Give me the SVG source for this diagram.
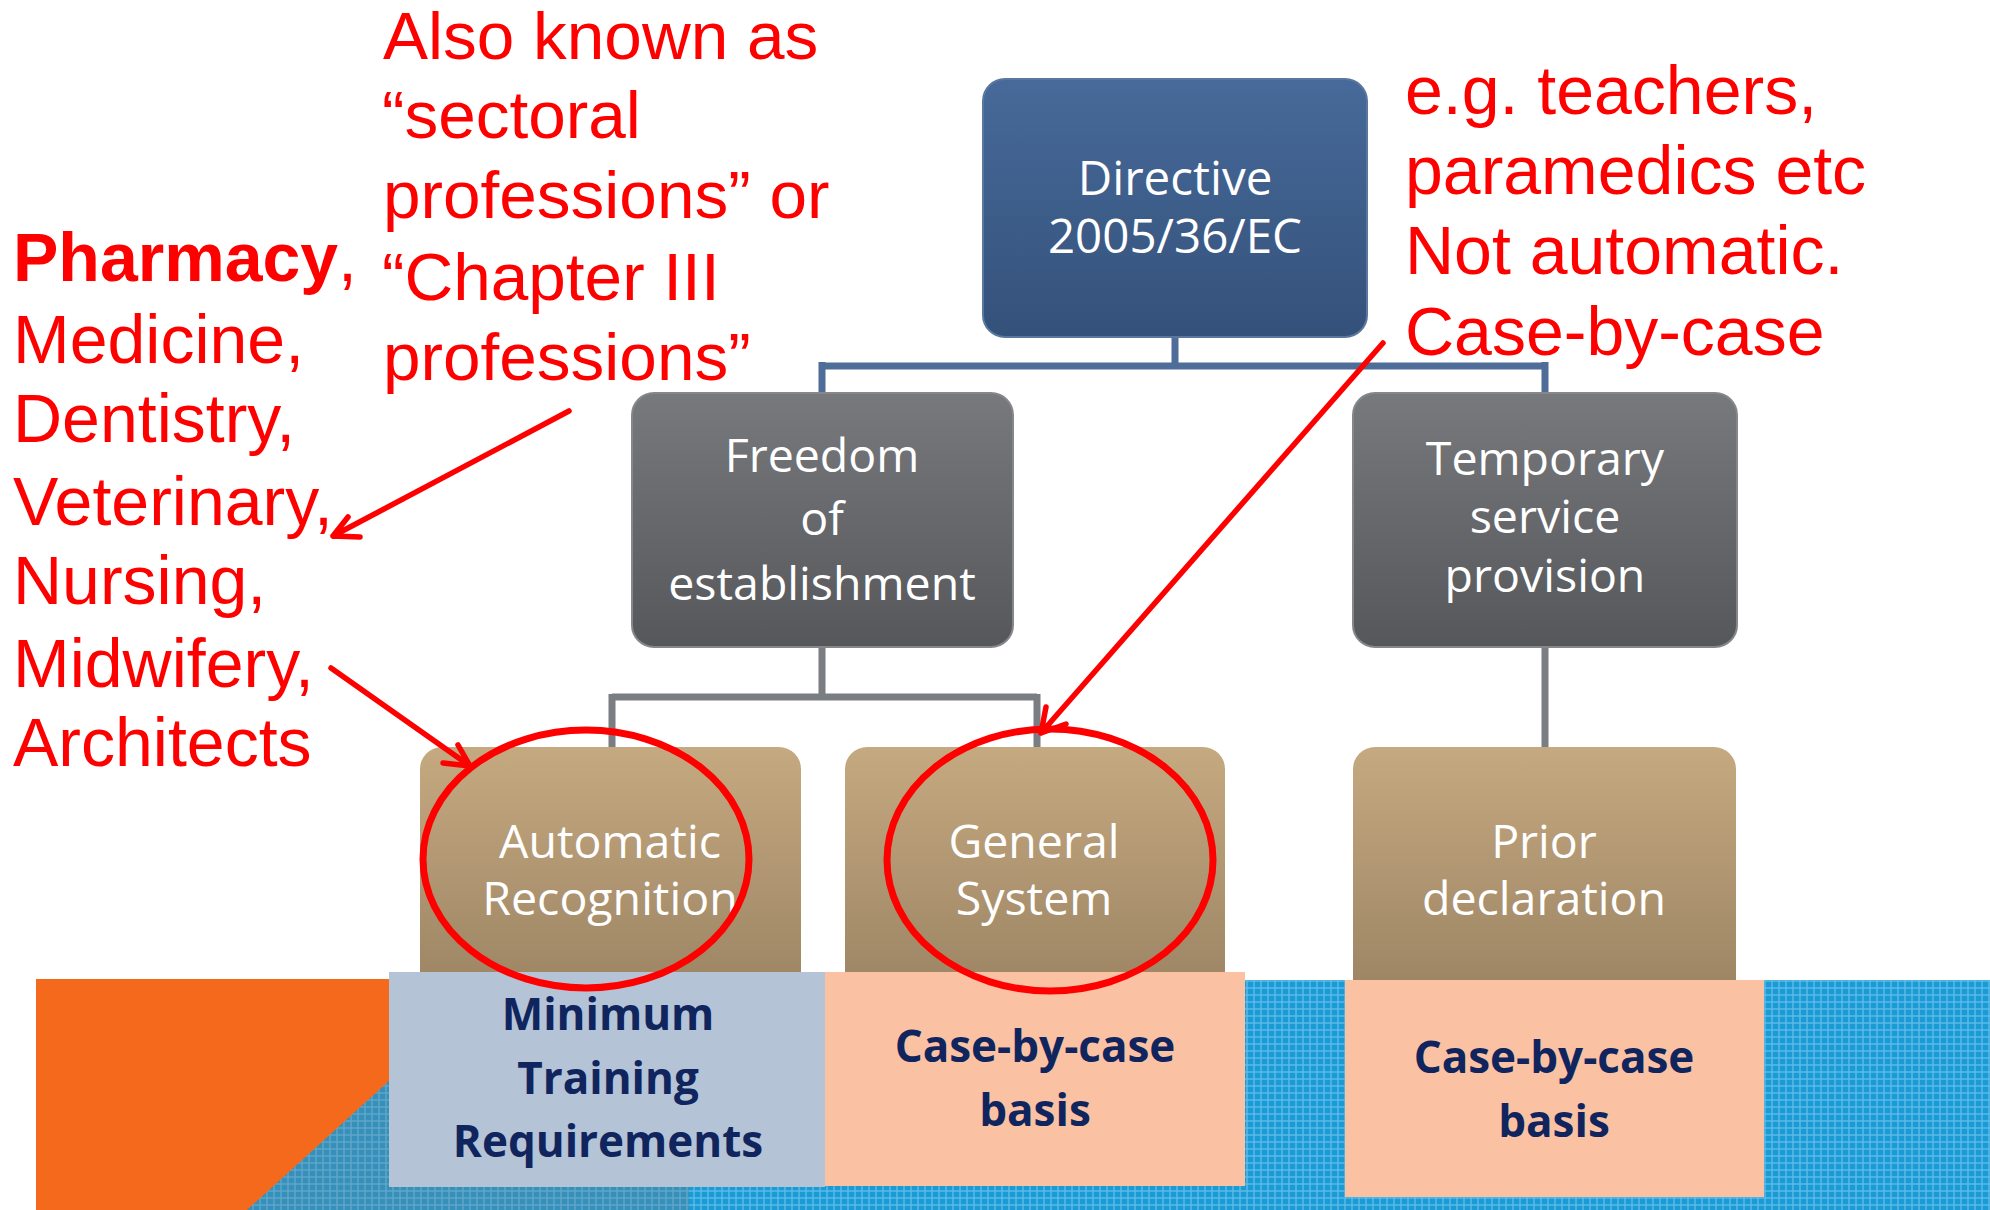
<svg xmlns="http://www.w3.org/2000/svg" width="1990" height="1210" viewBox="0 0 1990 1210">
  <defs>
    <linearGradient id="gBlue" x1="0" y1="0" x2="0" y2="1">
      <stop offset="0" stop-color="#476A9A"/>
      <stop offset="1" stop-color="#34517A"/>
    </linearGradient>
    <linearGradient id="gGrey" x1="0" y1="0" x2="0" y2="1">
      <stop offset="0" stop-color="#77797D"/>
      <stop offset="1" stop-color="#55575B"/>
    </linearGradient>
    <linearGradient id="gTan" x1="0" y1="0" x2="0" y2="1">
      <stop offset="0" stop-color="#C5A980"/>
      <stop offset="1" stop-color="#9A8262"/>
    </linearGradient>
    <pattern id="pBlue" patternUnits="userSpaceOnUse" width="7" height="7">
      <rect width="7" height="7" fill="#1A9BD6"/>
      <rect width="7" height="2" fill="#5DBDE8" opacity="0.7"/>
      <rect width="2" height="7" fill="#5DBDE8" opacity="0.7"/>
    </pattern>
    <style>
      .lbl { font-family: "Open Sans", "Liberation Sans", sans-serif; font-size: 46.5px; fill: #FFFFFF; text-anchor: middle; }
      .big { font-size: 47.5px; }
      .sub { font-family: "Open Sans", "Liberation Sans", sans-serif; font-size: 44px; font-weight: bold; fill: #10255E; text-anchor: middle; }
      .note { font-family: "Liberation Sans", Arial, sans-serif; font-size: 68px; fill: #FF0000; }
      .mid { font-size: 67.5px; }
      .cb { fill: none; stroke: #4E6D98; stroke-width: 7; }
      .cg { fill: none; stroke: #7A7D82; stroke-width: 7; }
      .ring { fill: none; stroke: #FF0000; stroke-width: 7; }
      .arr { fill: none; stroke: #FF0000; stroke-width: 5.5; stroke-linecap: round; }
    </style>
  </defs>

  <rect width="1990" height="1210" fill="#FFFFFF"/>

  <!-- connectors -->
  <g id="connectors">
    <path class="cb" d="M1175 337 V366 M822 366 H1545 M822 362 V393 M1545 362 V393"/>
    <path class="cg" d="M822 647 V697 M612 697 H1037 M612 694 V747 M1037 694 V747 M1545 647 V747"/>
  </g>

  <!-- level 1 -->
  <g id="directive">
    <rect x="983" y="79" width="384" height="258" rx="22" fill="url(#gBlue)" stroke="#5A779F" stroke-width="2"/>
    <text class="lbl big" x="1175" y="195">Directive</text>
    <text class="lbl big" x="1175" y="253">2005/36/EC</text>
  </g>

  <!-- level 2 -->
  <g id="freedom">
    <rect x="632" y="393" width="381" height="254" rx="22" fill="url(#gGrey)" stroke="#85878B" stroke-width="2"/>
    <text class="lbl" x="822" y="472">Freedom</text>
    <text class="lbl" x="822" y="535">of</text>
    <text class="lbl" x="822" y="600">establishment</text>
  </g>
  <g id="temporary">
    <rect x="1353" y="393" width="384" height="254" rx="22" fill="url(#gGrey)" stroke="#85878B" stroke-width="2"/>
    <text class="lbl" x="1545" y="475">Temporary</text>
    <text class="lbl" x="1545" y="533">service</text>
    <text class="lbl" x="1545" y="592">provision</text>
  </g>

  <!-- level 3 -->
  <g id="automatic">
    <rect x="420" y="747" width="381" height="260" rx="22" fill="url(#gTan)"/>
    <text class="lbl" x="610" y="858">Automatic</text>
    <text class="lbl" x="610" y="915">Recognition</text>
  </g>
  <g id="general">
    <rect x="845" y="747" width="380" height="260" rx="22" fill="url(#gTan)"/>
    <text class="lbl" x="1034" y="858">General</text>
    <text class="lbl" x="1034" y="915">System</text>
  </g>
  <g id="prior">
    <rect x="1353" y="747" width="383" height="260" rx="22" fill="url(#gTan)"/>
    <text class="lbl" x="1544" y="858">Prior</text>
    <text class="lbl" x="1544" y="915">declaration</text>
  </g>

  <!-- bottom band -->
  <g id="band">
    <rect x="36" y="980" width="1954" height="230" fill="url(#pBlue)"/>
    <polygon points="390,1080 390,1187 689,1187 689,1210 247,1210" fill="#6A7F8C" opacity="0.35"/>
    <polygon points="36,979 390,979 390,1080 247,1210 36,1210" fill="#F5691D"/>
  </g>

  <g id="minimum">
    <rect x="389" y="972" width="436" height="215" fill="#B4C3D6"/>
    <text class="sub" x="608" y="1030">Minimum</text>
    <text class="sub" x="608" y="1094">Training</text>
    <text class="sub" x="608" y="1157">Requirements</text>
  </g>
  <g id="case-general">
    <rect x="825" y="972" width="420" height="214" fill="#FBC1A3"/>
    <text class="sub" x="1035" y="1062">Case-by-case</text>
    <text class="sub" x="1035" y="1126">basis</text>
  </g>
  <g id="case-prior">
    <rect x="1345" y="980" width="419" height="217" fill="#FBC1A3"/>
    <text class="sub" x="1554" y="1073">Case-by-case</text>
    <text class="sub" x="1554" y="1137">basis</text>
  </g>

  <!-- annotations -->
  <g id="note-left">
    <text class="note" x="13" y="281"><tspan font-weight="bold">Pharmacy</tspan>,</text>
    <text class="note" x="13" y="363">Medicine,</text>
    <text class="note" x="13" y="442">Dentistry,</text>
    <text class="note" x="13" y="525">Veterinary,</text>
    <text class="note" x="13" y="604">Nursing,</text>
    <text class="note" x="13" y="687">Midwifery,</text>
    <text class="note" x="13" y="766">Architects</text>
  </g>
  <g id="note-middle">
    <text class="note mid" x="383" y="59">Also known as</text>
    <text class="note mid" x="382" y="138">“sectoral</text>
    <text class="note mid" x="383" y="218">professions” or</text>
    <text class="note mid" x="382" y="300">“Chapter III</text>
    <text class="note mid" x="383" y="380">professions”</text>
  </g>
  <g id="note-right">
    <text class="note" x="1405" y="114">e.g. teachers,</text>
    <text class="note" x="1405" y="194">paramedics etc</text>
    <text class="note" x="1405" y="274">Not automatic.</text>
    <text class="note" x="1405" y="355">Case-by-case</text>
  </g>

  <g id="rings">
    <ellipse class="ring" cx="586" cy="859" rx="163" ry="129"/>
    <ellipse class="ring" cx="1050" cy="860" rx="163" ry="131"/>
  </g>

  <g id="red-arrows">
    <path class="arr" d="M569 411 L333 536 M333 536 L360 537 M333 536 L348 517"/>
    <path class="arr" d="M331 668 L470 766 M470 766 L443 763 M470 766 L458 745"/>
    <path class="arr" d="M1383 343 L1041 733 M1041 733 L1046 707 M1041 733 L1066 724"/>
  </g>
</svg>
